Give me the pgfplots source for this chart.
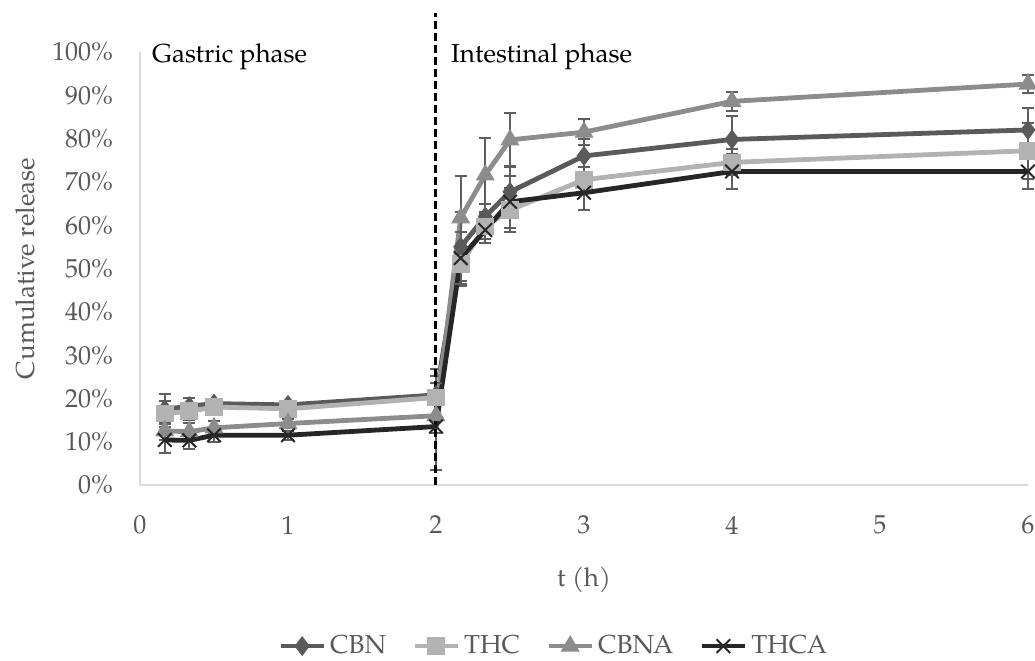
\documentclass[border=0pt]{standalone}
\usepackage{fontspec}
\setmainfont{TeX Gyre Pagella}
\usepackage{pgfplots}
\pgfplotsset{compat=1.18}
\usepackage{pgfplotstable}
\definecolor{cbn}{HTML}{5A5A5A}
\definecolor{thc}{HTML}{B2B2B2}
\definecolor{cbna}{HTML}{8C8C8C}
\definecolor{thca}{HTML}{262626}
\definecolor{txt}{HTML}{595959}
\definecolor{axl}{HTML}{D9D9D9}
\definecolor{errc}{HTML}{5F5F5F}

\pgfplotstableread{
x y e
0.167 17.5 3.5
0.333 18.2 2
0.5 18.8 1
1 18.5 1
2 20.8 6
2.167 55 8
2.333 62 3
2.5 67.7 6
3 76 4
4 79.8 5.5
6 82 5
}\cbndata
\pgfplotstableread{
x y e
0.167 16.5 3
0.333 17 2
0.5 18 1
1 17.6 1
2 20.2 5
2.167 51 5
2.333 59.7 3
2.5 63.5 5
3 70.5 3
4 74.5 3
6 77.2 6.5
}\thcdata
\pgfplotstableread{
x y e
0.167 12.5 2
0.333 12.3 2
0.5 13.2 1.5
1 14.2 1
2 16 4
2.167 61.7 9.7
2.333 71.6 8.6
2.5 79.7 6.3
3 81.5 3
4 88.6 2.2
6 92.6 2
}\cbnadata
\pgfplotstableread{
x y e
0.167 10.4 3
0.333 10.3 2
0.5 11.5 1.5
1 11.5 1
2 13.5 10
2.167 52.4 6
2.333 58.9 3
2.5 65.4 6
3 67.5 4
4 72.4 4
6 72.4 4
}\thcadata

\begin{document}
\fontsize{13pt}{15.6pt}\selectfont
\begin{tikzpicture}
\begin{axis}[
  at={(0,0)}, anchor=south west,
  scale only axis, width=444pt, height=216.5pt,
  xmin=0, xmax=6, ymin=0, ymax=100,
  clip=false,
  axis lines*=left,
  axis line style={axl, line width=0.6pt},
  xtick={0,1,2,3,4,5,6},
  ytick={0,10,...,100},
  major tick length=0pt,
  /pgf/number format/assume math mode=true,
  yticklabel={\pgfmathprintnumber{\tick}\%},
  ticklabel style={text=txt, font=\fontsize{13pt}{15.6pt}\selectfont},
  yticklabel style={xshift=-9pt},
  xticklabel style={yshift=-11pt},
  xlabel={t (h)},
  ylabel={Cumulative release},
  label style={text=txt, font=\fontsize{13pt}{15.6pt}\selectfont},
  xlabel style={at={(axis description cs:0.5,-0.2194)}, anchor=center},
  ylabel style={at={(axis description cs:-0.1295,0.5)}, anchor=center},
  legend columns=4,
  legend style={at={(0.467,-0.372)}, anchor=center, draw=none, fill=none,
    text=txt, font=\fontsize{13pt}{15.6pt}\selectfont,
    /tikz/every even column/.append style={column sep=11pt}},
  legend cell align=left,
  legend image code/.code={
    \draw[#1, mark repeat=2, mark phase=2] plot coordinates {(0cm,0cm) (0.38cm,0cm) (0.76cm,0cm)};
  },
  error bars/y dir=both,
  error bars/y explicit,
  error bars/error mark options={rotate=90, mark size=3pt, line width=1pt, errc},
  error bars/error bar style={line width=1pt, errc},
]
\addplot[cbn, line width=2.4pt, mark=diamond*, mark size=4.6pt, mark options={solid, fill=cbn, draw=cbn, line width=0.5pt}]
  table[x=x, y=y, y error=e] {\cbndata};
\addlegendentry{CBN}
\addplot[thc, line width=2.4pt, mark=square*, mark size=4.2pt, mark options={solid, fill=thc, draw=thc, line width=0.5pt}]
  table[x=x, y=y, y error=e] {\thcdata};
\addlegendentry{THC}
\addplot[cbna, line width=2.4pt, mark=triangle*, mark size=5pt, mark options={solid, fill=cbna, draw=cbna, line width=0.5pt}]
  table[x=x, y=y, y error=e] {\cbnadata};
\addlegendentry{CBNA}
\addplot[thca, line width=2.4pt, mark=x, mark size=4.8pt, mark options={solid, draw=thca, line width=1pt}]
  table[x=x, y=y, y error=e] {\thcadata};
\addlegendentry{THCA}
\draw[black, line width=1.5pt, dash pattern=on 4pt off 2pt] (axis cs:2,0) -- (axis cs:2,109);
\node[anchor=base west, text=black, inner sep=0pt] at (axis cs:0.08,97.5) {Gastric phase};
\node[anchor=base west, text=black, inner sep=0pt] at (axis cs:2.1,97.5) {Intestinal phase};
\end{axis}
\pgfresetboundingbox
\path (-70pt,-87.5pt) rectangle (447.5pt,242.5pt);
\end{tikzpicture}
\end{document}
